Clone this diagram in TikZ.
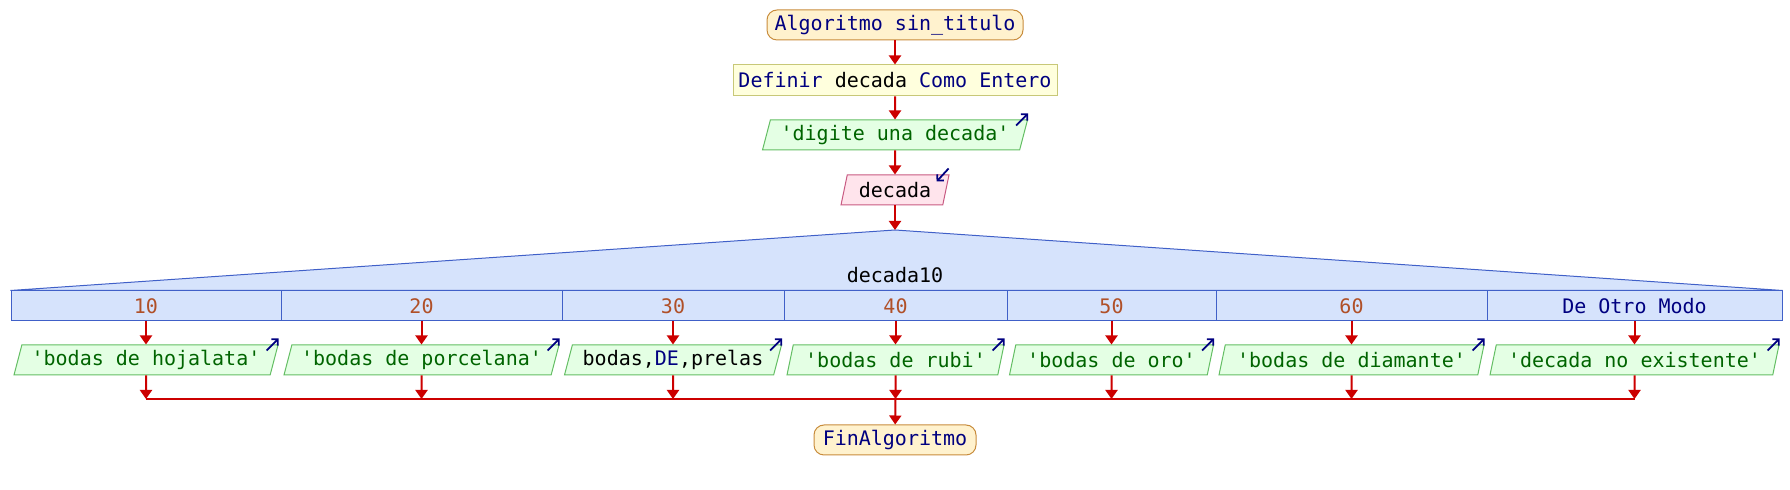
\documentclass[tikz,border=0pt]{standalone}
\usepackage{fontspec}
\setmonofont{DejaVu Sans Mono}
\usetikzlibrary{arrows.meta,shapes.geometric}
\definecolor{flowred}{RGB}{204,0,0}
\definecolor{kwnavy}{RGB}{0,0,128}
\definecolor{strgreen}{RGB}{0,100,0}
\definecolor{numbrown}{RGB}{176,80,40}
\definecolor{termfill}{RGB}{255,242,206}
\definecolor{termborder}{RGB}{200,140,60}
\definecolor{deffill}{RGB}{255,255,221}
\definecolor{defborder}{RGB}{200,200,120}
\definecolor{outfill}{RGB}{228,255,228}
\definecolor{outborder}{RGB}{100,190,100}
\definecolor{infill}{RGB}{255,228,236}
\definecolor{inborder}{RGB}{200,90,130}
\definecolor{swfill}{RGB}{214,227,252}
\definecolor{swborder}{RGB}{64,96,200}

\begin{document}
\begin{tikzpicture}[x=0.5pt,y=-0.5pt,font=\ttfamily\fontsize{10}{12}\selectfont,
  flow/.style={flowred,line width=1pt,-{Triangle[width=6pt,length=4.5pt]}},
  term/.style={draw=termborder,fill=termfill,line width=0.5pt,rounded corners=5pt,minimum height=15pt,inner sep=0pt,text=kwnavy},
  defbox/.style={draw=defborder,fill=deffill,line width=0.5pt,minimum height=15.5pt,inner sep=0pt},
  iobox/.style={trapezium,trapezium left angle=68,trapezium right angle=112,trapezium stretches body=true,line width=0.5pt,minimum height=15pt,inner sep=0pt},
  outbox/.style={iobox,draw=outborder,fill=outfill,text=strgreen},
  inbox/.style={iobox,draw=inborder,fill=infill},
  casebox/.style={draw=swborder,fill=swfill,line width=0.5pt,minimum height=15pt,inner sep=0pt},
  icon/.style={kwnavy,line width=0.9pt,-{Straight Barb[length=2.2pt,width=4.5pt]}}]
\useasboundingbox (0,0) rectangle (1790,490);
\node[term,minimum width=128pt] (inicio) at (895,25) {Algoritmo sin\_titulo};
\node[defbox,minimum width=162pt] (definir) at (895,80.5) {\textcolor{kwnavy}{Definir} decada \textcolor{kwnavy}{Como Entero}};
\node[outbox,minimum width=132.5pt] (pedir) at (895,135) {'digite una decada'};
\node[inbox,minimum width=54pt] (leer) at (895,190) {decada};
\coordinate (tope) at (895,230);
\draw[icon] ([shift={(-12,6)}]pedir.top right corner) -- ([shift={(0,-6)}]pedir.top right corner);
\draw[icon] ([shift={(-1,-6)}]leer.top right corner) -- ([shift={(-13,7)}]leer.top right corner);
\foreach \n/\cx/\w/\lab/\col in {1/146/270/10/numbrown,2/421.5/281/20/numbrown,3/673/222/30/numbrown,
  4/895.5/223/40/numbrown,5/1111.5/209/50/numbrown,6/1351.5/271/60/numbrown,7/1634.5/295/De Otro Modo/kwnavy}
  \node[casebox,minimum width=\w*0.5pt,text=\col] (c\n) at (\cx,306) {\lab};
\draw[swborder,fill=swfill,line width=0.5pt] (c1.north west) -- (tope) -- (c7.north east) -- cycle;
\node (expr) at (895,275) {decada10};
\foreach \n/\cx/\w/\txt in {1/146/264/{'bodas de hojalata'},2/421.5/275/{'bodas de porcelana'},
  3/673/217/{\textcolor{black}{bodas,}\textcolor{kwnavy}{DE}\textcolor{black}{,prelas}},
  4/895.5/217/{'bodas de rubi'},5/1111.5/204/{'bodas de oro'},6/1351.5/265/{'bodas de diamante'},
  7/1634.5/289/{'decada no existente'}} {
  \node[outbox,minimum width=\w*0.5pt] (o\n) at (\cx,360) {\txt};
  \coordinate (m\n) at (\cx,399);
  \draw[icon] ([shift={(-12,6)}]o\n.top right corner) -- ([shift={(0,-6)}]o\n.top right corner);
  \draw[flow] (c\n) -- (o\n);
  \draw[flow] (o\n) -- (m\n);
}
\draw[flowred,line width=1pt] (m1) -- (m7);
\node[term,minimum width=81pt] (fin) at (895,440) {FinAlgoritmo};
\draw[flow] (inicio) -- (definir);
\draw[flow] (definir) -- (pedir);
\draw[flow] (pedir) -- (leer);
\draw[flow] (leer) -- (tope);
\draw[flow] (m4) -- (fin);
\end{tikzpicture}
\end{document}
